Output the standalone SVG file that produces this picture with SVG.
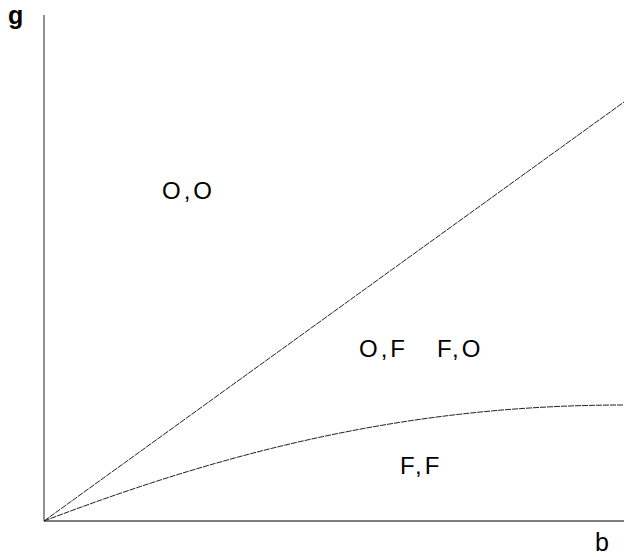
<svg xmlns="http://www.w3.org/2000/svg" width="624" height="557" viewBox="0 0 624 557">
<style>
text{font-family:"Liberation Sans",Arial,sans-serif;fill:#000}
.rl{font-size:24px;letter-spacing:3px}
.ax{stroke:#555;fill:none}
.cv{stroke:#222;stroke-width:1;fill:none;stroke-dasharray:6 1}
</style>
<rect width="624" height="557" fill="#fff"/>
<g id="axes">
<line class="ax" x1="44" y1="15" x2="44" y2="521" stroke-width="1.3"/>
<line class="ax" x1="44" y1="521" x2="624" y2="521" stroke-width="1.5"/>
</g>
<g id="connectors">
<line class="cv" x1="44" y1="521" x2="624" y2="102"/>
<path class="cv" d="M44,521 C240,446 420,405 624,405"/>
</g>
<g id="label-g"><text x="8" y="24" font-weight="bold" font-size="25">g</text></g>
<g id="label-b"><text x="595" y="551" font-size="25">b</text></g>
<g id="region-OO"><text class="rl" x="162" y="199">O,O</text></g>
<g id="region-OF"><text class="rl" x="359" y="357">O,F</text></g>
<g id="region-FO"><text class="rl" x="437" y="357">F,O</text></g>
<g id="region-FF"><text class="rl" x="400" y="474">F,F</text></g>
</svg>
